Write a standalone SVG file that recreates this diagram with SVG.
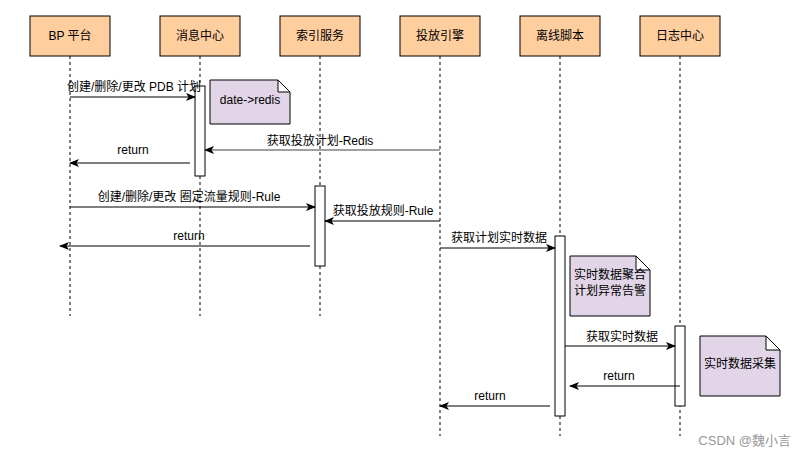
<svg xmlns="http://www.w3.org/2000/svg" width="806" height="455" viewBox="0 0 806 455">
<style>
text{font-family:"Liberation Sans","Noto Sans CJK SC",sans-serif;font-size:12px;fill:#000}
.hd{fill:#FFCE9F;stroke:#000;stroke-width:1}
.life{stroke:#000;stroke-dasharray:3,3;fill:none}
.act{fill:#fff;stroke:#000}
.note{fill:#E1D5E7;stroke:#000}
.msg{stroke:#000;fill:none}
.c{text-anchor:middle}
</style>
<defs>
<marker id="ar" viewBox="0 0 10 8" refX="9" refY="4" markerWidth="10" markerHeight="8" markerUnits="userSpaceOnUse" orient="auto">
<path d="M0,0 L10,4 L0,8 L2.5,4 z" fill="#000"/>
</marker>
<marker id="arg" viewBox="0 0 10 8" refX="9" refY="4" markerWidth="10" markerHeight="8" markerUnits="userSpaceOnUse" orient="auto">
<path d="M0,0 L10,4 L0,8 L2.5,4 z" fill="#000"/>
</marker>
</defs>
<rect width="806" height="455" fill="#fff"/>
<g id="lifelines">
<line class="life" x1="70" y1="56" x2="70" y2="316"/>
<line class="life" x1="200" y1="56" x2="200" y2="316"/>
<line class="life" x1="320" y1="56" x2="320" y2="316"/>
<line class="life" x1="440" y1="56" x2="440" y2="436"/>
<line class="life" x1="560" y1="56" x2="560" y2="436"/>
<line class="life" x1="680" y1="56" x2="680" y2="436"/>
</g>
<g id="n-bp"><rect class="hd" x="30" y="16" width="80" height="40"/><text class="c" x="70" y="40">BP 平台</text></g>
<g id="n-msg"><rect class="hd" x="160" y="16" width="80" height="40"/><text class="c" x="200" y="40">消息中心</text></g>
<g id="n-idx"><rect class="hd" x="280" y="16" width="80" height="40"/><text class="c" x="320" y="40">索引服务</text></g>
<g id="n-eng"><rect class="hd" x="400" y="16" width="80" height="40"/><text class="c" x="440" y="40">投放引擎</text></g>
<g id="n-off"><rect class="hd" x="520" y="16" width="80" height="40"/><text class="c" x="560" y="40">离线脚本</text></g>
<g id="n-log"><rect class="hd" x="640" y="16" width="80" height="40"/><text class="c" x="680" y="40">日志中心</text></g>
<g id="activations">
<rect class="act" x="195" y="86" width="10" height="90"/>
<rect class="act" x="315" y="186" width="10" height="80"/>
<rect class="act" x="555" y="236" width="10" height="180"/>
<rect class="act" x="675" y="326" width="10" height="80"/>
</g>
<g id="notes">
<path class="note" d="M210,80 H278 L290,92 V124 H210 Z M278,80 V92 H290"/>
<text class="c" x="250" y="104">date-&gt;redis</text>
<path class="note" d="M570,256 H636 L650,270 V316 H570 Z M636,256 V270 H650"/>
<text class="c" x="610" y="279">实时数据聚合</text>
<text class="c" x="610" y="295">计划异常告警</text>
<path class="note" d="M700,336 H766 L780,350 V396 H700 Z M766,336 V350 H780"/>
<text class="c" x="740" y="368">实时数据采集</text>
</g>
<g id="connectors">
<line class="msg" x1="70" y1="97" x2="195" y2="97" marker-end="url(#ar)"/>
<text class="c" x="134" y="91">创建/删除/更改 PDB 计划</text>
<line x1="440" y1="150" x2="205" y2="150" stroke="#808080" stroke-width="1.5" marker-end="url(#arg)"/>
<text class="c" x="320" y="145">获取投放计划-Redis</text>
<line class="msg" x1="190" y1="163" x2="70" y2="163" marker-end="url(#ar)"/>
<text class="c" x="133" y="154">return</text>
<line class="msg" x1="70" y1="207" x2="315" y2="207" marker-end="url(#ar)"/>
<text class="c" x="189" y="201">创建/删除/更改 圈定流量规则-Rule</text>
<line class="msg" x1="440" y1="221" x2="325" y2="221" marker-end="url(#ar)"/>
<text class="c" x="383" y="215">获取投放规则-Rule</text>
<line class="msg" x1="310" y1="246" x2="60" y2="246" marker-end="url(#ar)"/>
<text class="c" x="189" y="240">return</text>
<line class="msg" x1="440" y1="248" x2="555" y2="248" marker-end="url(#ar)"/>
<text class="c" x="499" y="242">获取计划实时数据</text>
<line class="msg" x1="565" y1="346" x2="675" y2="346" marker-end="url(#ar)"/>
<text class="c" x="622" y="341">获取实时数据</text>
<line class="msg" x1="680" y1="386" x2="570" y2="386" marker-end="url(#ar)"/>
<text class="c" x="619" y="380">return</text>
<line class="msg" x1="550" y1="406" x2="440" y2="406" marker-end="url(#ar)"/>
<text class="c" x="490" y="400">return</text>
</g>
<text x="791" y="445" style="text-anchor:end;fill:#999;font-size:13px">CSDN @魏小言</text>
</svg>
